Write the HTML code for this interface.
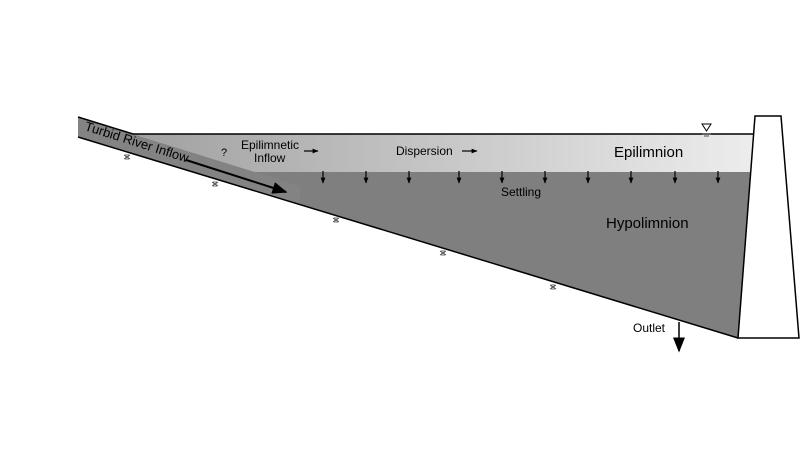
<!DOCTYPE html>
<html><head><meta charset="utf-8"><style>
html,body{margin:0;padding:0;background:#fff;}
svg{display:block;font-family:"Liberation Sans",Arial,sans-serif;}
</style></head><body>
<svg width="808" height="455" viewBox="0 0 808 455">
<defs>
<linearGradient id="epi" x1="0" x2="1" y1="0" y2="0">
<stop offset="0" stop-color="#a0a0a0"/><stop offset="1" stop-color="#ededed"/>
</linearGradient>
<marker id="ah" viewBox="0 0 10 10" refX="9" refY="5" markerWidth="6" markerHeight="6" markerUnits="userSpaceOnUse" orient="auto"><path d="M0,1 L10,5 L0,9 z" fill="#000"/></marker>
<marker id="ahb" viewBox="0 0 10 10" refX="9" refY="5" markerWidth="15" markerHeight="12" markerUnits="userSpaceOnUse" orient="auto" preserveAspectRatio="none"><path d="M0,0 L10,5 L0,10 z" fill="#000"/></marker>
<g id="xx"><path d="M-3,-2 L3,2 M-3,2 L3,-2 M-1,-3 L-1,3 M1,-3 L1,3" stroke="#444" stroke-width="0.8" fill="none"/></g>
</defs>
<polygon points="255,172 752,172 738,338 78,137 78,117" fill="#7f7f7f"/>
<polygon points="78,117 255,172 300,186 300,205 78,137" fill="#838383"/>
<polygon points="133,134 753,134 750,172 255,172" fill="url(#epi)"/>
<line x1="78" y1="117" x2="133" y2="134" stroke="#000" stroke-width="1.5"/>
<line x1="133" y1="134" x2="755" y2="134" stroke="#000" stroke-width="1.5"/>
<line x1="78" y1="137" x2="738" y2="338" stroke="#000" stroke-width="1.5"/>
<polygon points="755,116 781,116 799,338 738,338" fill="#fff" stroke="#000" stroke-width="1.5"/>
<g>
<polygon points="702,124 711,124 706.5,131" fill="#fff" stroke="#000" stroke-width="1"/>
<line x1="702" y1="134" x2="711" y2="134" stroke="#555" stroke-width="1"/>
<line x1="704" y1="136" x2="709" y2="136" stroke="#555" stroke-width="1"/>
</g>
<g>
<use href="#xx" x="127" y="157"/><use href="#xx" x="215" y="184"/><use href="#xx" x="336" y="220"/><use href="#xx" x="443" y="253"/><use href="#xx" x="553" y="287"/>
</g>
<text x="84" y="130" font-size="13" transform="rotate(17.5 84 130)">Turbid River Inflow</text>
<line x1="186" y1="160" x2="286" y2="192" stroke="#000" stroke-width="2" marker-end="url(#ahb)"/>
<text x="221" y="156" font-size="11">?</text>
<text x="241" y="149" font-size="12">Epilimnetic</text>
<text x="254" y="162" font-size="12">Inflow</text>
<line x1="304" y1="151" x2="318" y2="151" stroke="#000" stroke-width="1.2" marker-end="url(#ah)"/>
<text x="396" y="155" font-size="12">Dispersion</text>
<line x1="462" y1="151" x2="477" y2="151" stroke="#000" stroke-width="1.2" marker-end="url(#ah)"/>
<text x="614" y="157" font-size="15">Epilimnion</text>
<text x="606" y="228" font-size="15">Hypolimnion</text>
<text x="501" y="196" font-size="12">Settling</text>
<g stroke="#000" stroke-width="1.2">
<line x1="323" y1="171" x2="323" y2="183" marker-end="url(#ah)"/>
<line x1="366" y1="171" x2="366" y2="183" marker-end="url(#ah)"/>
<line x1="409" y1="171" x2="409" y2="183" marker-end="url(#ah)"/>
<line x1="459" y1="171" x2="459" y2="183" marker-end="url(#ah)"/>
<line x1="502" y1="171" x2="502" y2="183" marker-end="url(#ah)"/>
<line x1="545" y1="171" x2="545" y2="183" marker-end="url(#ah)"/>
<line x1="588" y1="171" x2="588" y2="183" marker-end="url(#ah)"/>
<line x1="631" y1="171" x2="631" y2="183" marker-end="url(#ah)"/>
<line x1="675" y1="171" x2="675" y2="183" marker-end="url(#ah)"/>
<line x1="718" y1="171" x2="718" y2="183" marker-end="url(#ah)"/>
</g>
<line x1="679" y1="322" x2="679" y2="351" stroke="#000" stroke-width="1.5" marker-end="url(#ahb)"/>
<text x="633" y="332" font-size="12">Outlet</text>
</svg>
</body></html>
